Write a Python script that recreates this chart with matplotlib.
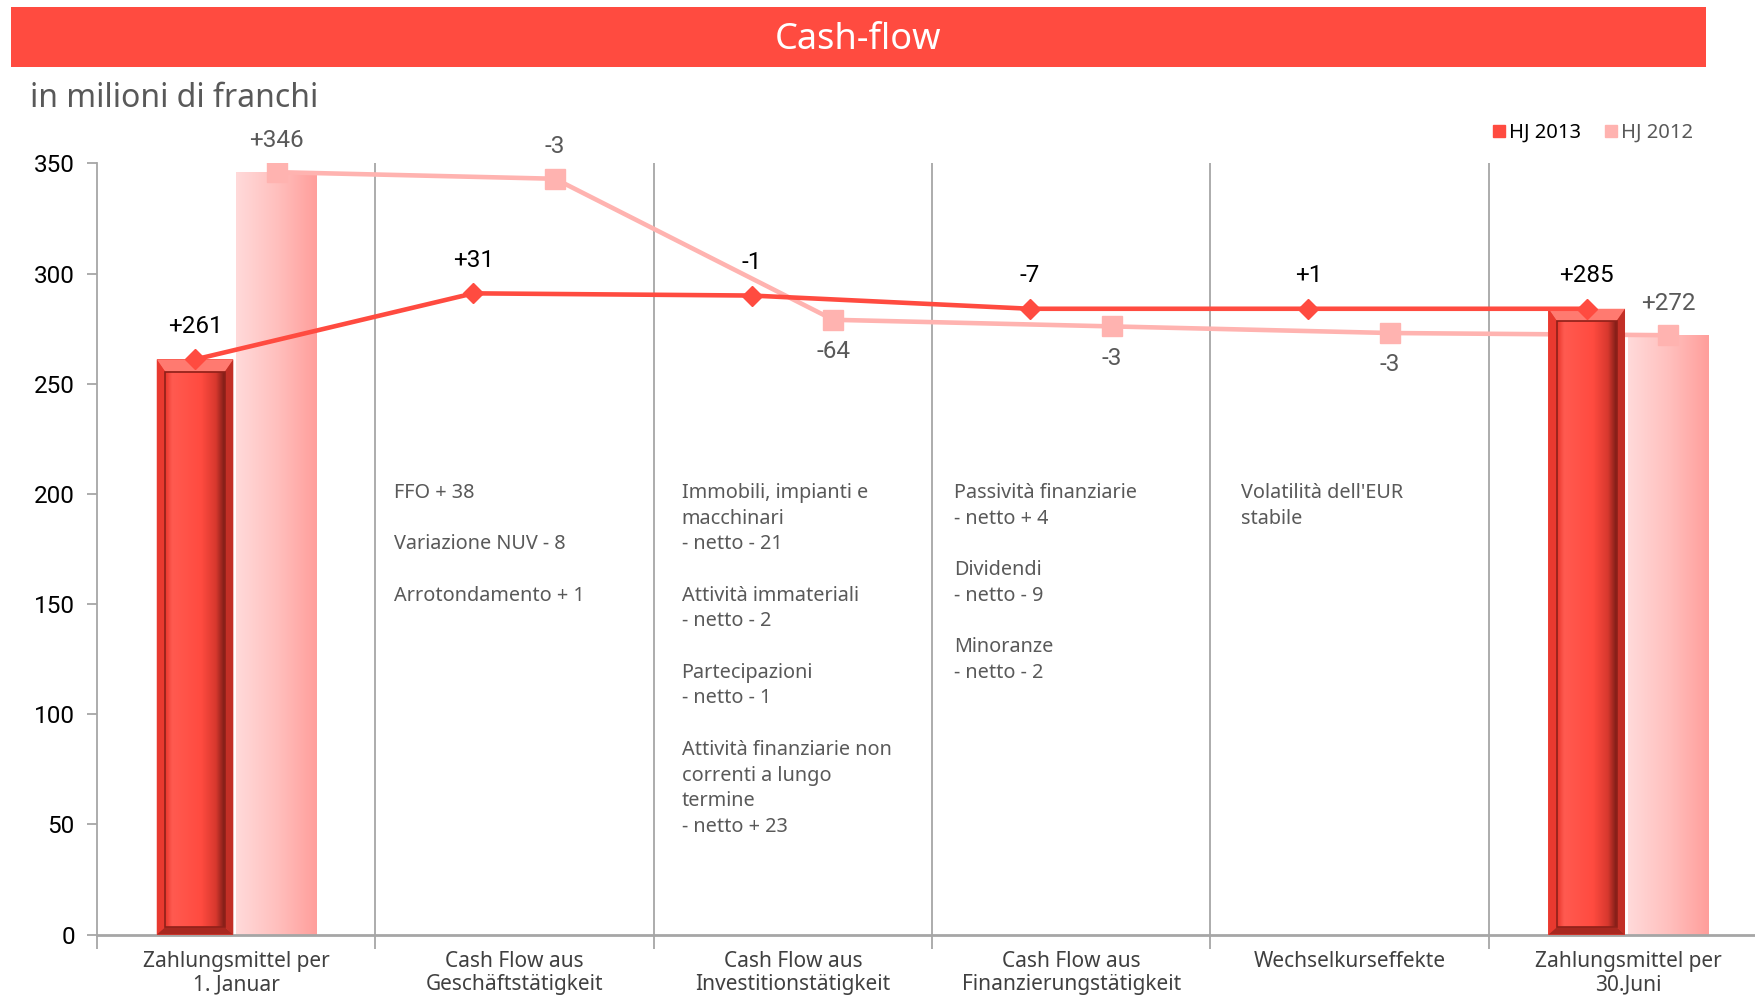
import numpy as np
import matplotlib
matplotlib.use('Agg')
import matplotlib.pyplot as plt
from matplotlib.patches import Rectangle, Polygon
from matplotlib.colors import LinearSegmentedColormap
from matplotlib.lines import Line2D

# Dati
categorie = ["Zahlungsmittel per\n1. Januar", "Cash Flow aus\nGeschäftstätigkeit",
             "Cash Flow aus\nInvestitionstätigkeit", "Cash Flow aus\nFinanzierungstätigkeit",
             "Wechselkurseffekte", "Zahlungsmittel per\n30.Juni"]
linea_2013 = [261, 291, 290, 284, 284, 284]
linea_2012 = [346, 343, 279, 276, 273, 272]
etich_2013 = ["+261", "+31", "-1", "-7", "+1", "+285"]
etich_2012 = ["+346", "-3", "-64", "-3", "-3", "+272"]
sopra_2012 = [True, True, False, False, False, True]
barre_idx = [0, 5]
barre_2013 = [261, 284]
barre_2012 = [346, 272]
note = [
    None,
    "FFO + 38\n\nVariazione NUV - 8\n\nArrotondamento + 1",
    "Immobili, impianti e\nmacchinari\n- netto - 21\n\nAttività immateriali\n- netto - 2\n\n"
    "Partecipazioni\n- netto - 1\n\nAttività finanziarie non\ncorrenti a lungo\ntermine\n- netto + 23",
    "Passività finanziarie\n- netto + 4\n\nDividendi\n- netto - 9\n\nMinoranze\n- netto - 2",
    "Volatilità dell'EUR\nstabile",
    None,
]

ROSSO = '#FF4B40'
ROSA = '#FFB3B0'
GRIGIO = '#595959'
TESTO = 'Noto Sans'
NUMERI = 'Roboto'

fig = plt.figure(figsize=(17.55, 9.99), dpi=100)

# barra del titolo
fig.patches.append(Rectangle((0.0063, 0.933), 0.9657, 0.06, transform=fig.transFigure,
                             facecolor=ROSSO, edgecolor='none'))
fig.text(0.489, 0.960, "Cash-flow", color='white', fontsize=26, ha='center', va='center',
         family=TESTO)
fig.text(0.017, 0.901, "in milioni di franchi", color=GRIGIO, fontsize=23, ha='left',
         va='center', family=TESTO, weight='bold')

ax = fig.add_axes([0.0553, 0.0645, 0.9516, 0.772])
x = np.arange(len(categorie))
off13, off12 = -0.148, 0.145
w13, w12 = 0.275, 0.29

# barre HJ 2012 con sfumatura
cmap12 = LinearSegmentedColormap.from_list('r12', ['#FFDADA', '#FFC0BE', '#FF9E9B'])
for i, v in zip(barre_idx, barre_2012):
    x0 = x[i] + off12 - w12 / 2
    r = Rectangle((x0, 0), w12, v, facecolor='none', edgecolor='none')
    ax.add_patch(r)
    im = ax.imshow(np.linspace(0, 1, 256)[None, :], cmap=cmap12, aspect='auto',
                   extent=(x0, x0 + w12, 0, v), zorder=1)
    im.set_clip_path(r)

# linea HJ 2012
ax.plot(x + off12, linea_2012, color=ROSA, lw=3.3, marker='s', ms=14.5, zorder=2)

# barre HJ 2013 con effetto rilievo
cmap13 = LinearSegmentedColormap.from_list('r13', [(0, '#E8362C'), (0.12, '#FF5A50'),
                                                    (0.6, '#FF4B40'), (0.85, '#D8382E'),
                                                    (1, '#7A1C16')])
bx, by = 0.03, 5.5
for i, v in zip(barre_idx, barre_2013):
    x0 = x[i] + off13 - w13 / 2
    x1 = x0 + w13
    ax.add_patch(Rectangle((x0, 0), w13, v, facecolor='#F2463B', edgecolor='none', zorder=3))
    ax.add_patch(Polygon([(x0, v), (x1, v), (x1 - bx, v - by), (x0 + bx, v - by)],
                         facecolor='#FF7A70', edgecolor='none', zorder=3))
    ax.add_patch(Polygon([(x0, 0), (x0 + bx, by * 0.6), (x0 + bx, v - by), (x0, v)],
                         facecolor='#E8392F', edgecolor='none', zorder=3))
    ax.add_patch(Polygon([(x1, 0), (x1 - bx, by * 0.6), (x1 - bx, v - by), (x1, v)],
                         facecolor='#C22F26', edgecolor='none', zorder=3))
    ax.add_patch(Polygon([(x0, 0), (x1, 0), (x1 - bx, by * 0.6), (x0 + bx, by * 0.6)],
                         facecolor='#A82820', edgecolor='none', zorder=3))
    r = Rectangle((x0 + bx, by * 0.6), w13 - 2 * bx, v - by - by * 0.6, facecolor='none',
                  edgecolor='#8E2019', lw=1.2, zorder=3.2)
    ax.add_patch(r)
    im = ax.imshow(np.linspace(0, 1, 256)[None, :], cmap=cmap13, aspect='auto',
                   extent=(x0 + bx, x1 - bx, by * 0.6, v - by), zorder=3.1)
    im.set_clip_path(r)

# linea HJ 2013
ax.plot(x + off13, linea_2013, color=ROSSO, lw=3.3, marker='D', ms=10.5, zorder=4)

# etichette
for xi, v, t in zip(x + off13, linea_2013, etich_2013):
    ax.annotate(t, (xi, v), xytext=(0, 24), textcoords='offset points', ha='center',
                va='center', fontsize=17.5, color='black', family=NUMERI)
for xi, v, t, s in zip(x + off12, linea_2012, etich_2012, sopra_2012):
    ax.annotate(t, (xi, v), xytext=(0, 23 if s else -23), textcoords='offset points',
                ha='center', va='center', fontsize=17.5, color=GRIGIO, family=NUMERI)

# note
note_dx = [0, 0.068, 0.1, 0.08, 0.11, 0]
for i, (n, dx) in enumerate(zip(note, note_dx)):
    if n:
        ax.text(i - 0.5 + dx, 205, n, ha='left', va='top', fontsize=14.3, color=GRIGIO,
                family=TESTO, linespacing=1.38)

# separatori
for b in np.arange(0.5, len(categorie) - 0.5):
    ax.plot([b, b], [0, 350], color='#A6A6A6', lw=1.3, zorder=0)

ax.set_xlim(-0.5, len(categorie) - 0.5)
ax.set_ylim(0, 350)
ax.set_yticks(np.arange(0, 351, 50))
ax.set_xticks(np.arange(-0.5, len(categorie)))
ax.set_xticklabels([])
ax.set_xticks(x, minor=True)
ax.set_xticklabels(categorie, minor=True, fontsize=15, color='#404040', family=TESTO,
                   linespacing=1.12)
ax.tick_params(axis='x', which='minor', length=0, pad=12)
ax.tick_params(axis='x', which='major', length=10, color='#A6A6A6', width=1.3)
ax.tick_params(axis='y', length=7, color='#A6A6A6', width=1.3, labelsize=17.5, pad=9)
for lab in ax.get_yticklabels():
    lab.set_family(NUMERI)
for s in ['top', 'right']:
    ax.spines[s].set_visible(False)
ax.spines['left'].set_color('#A6A6A6')
ax.spines['left'].set_linewidth(1.3)
ax.spines['bottom'].set_color('#A6A6A6')
ax.spines['bottom'].set_linewidth(2)

# legenda
maniglie = [Line2D([], [], marker='s', ls='none', color=ROSSO, ms=9),
            Line2D([], [], marker='s', ls='none', color=ROSA, ms=9)]
leg = fig.legend(maniglie, ['HJ 2013', 'HJ 2012'], loc='center', ncol=2,
                 bbox_to_anchor=(0.907, 0.867), frameon=False, handletextpad=0.1,
                 columnspacing=1.1, handlelength=0.8,
                 prop={'family': TESTO, 'size': 14.5})
leg.get_texts()[0].set_color('black')
leg.get_texts()[1].set_color(GRIGIO)

fig.savefig('out.png', dpi=100)
